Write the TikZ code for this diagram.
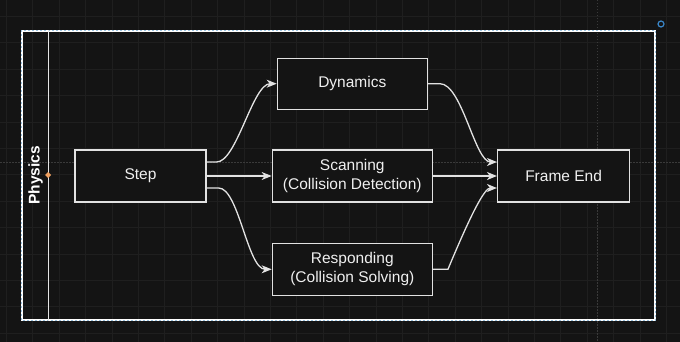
\documentclass[tikz,border=0pt]{standalone}
\usepackage{fontspec}
\setmainfont{Liberation Sans}
\usetikzlibrary{arrows.meta,positioning}
\definecolor{canvas}{HTML}{141414}
\definecolor{gridline}{HTML}{1F1F1F}
\definecolor{guideline}{HTML}{3A3A3A}
\definecolor{edge}{HTML}{E2E2E2}
\definecolor{selblue}{HTML}{9CC3E0}
\definecolor{handle}{HTML}{F0A060}
\definecolor{rothandle}{HTML}{3A86C8}

\begin{document}
\begin{tikzpicture}[x=1pt,y=-1pt,font=\fontsize{15.5}{19}\selectfont,
    box/.style={draw=edge,line width=1.3pt,fill=canvas,text=white!94!black,minimum height=52pt,inner sep=0pt,align=center},
    arr/.style={draw=edge,line width=1.3pt,-{Stealth[length=10pt,width=8pt,inset=3pt]}},
    guide/.style={draw=guideline,line width=0.8pt,dash pattern=on 1.5pt off 1.5pt}]
    % canvas and grid
    \fill[canvas] (0,0) rectangle (680,342);
    \useasboundingbox (0,0) rectangle (680,342);
    \foreach \x in {6.4,32.8,...,680} \draw[gridline,line width=0.8pt] (\x,0) -- (\x,342);
    \foreach \y in {16.4,42.8,...,342} \draw[gridline,line width=0.8pt] (0,\y) -- (680,\y);
    \draw[guide] (0,162) -- (680,162);
    \draw[guide] (597,0) -- (597,342);
    % swimlane
    \node[draw=white,line width=1.2pt,minimum width=633pt,minimum height=289pt,inner sep=0pt] (lane) at (338.5,175.5) {};
    \draw[selblue,line width=1.2pt,dash pattern=on 2pt off 2pt] (lane.north west) rectangle (lane.south east);
    \draw[white!90!black,line width=1.3pt] ([xshift=27pt]lane.north west) -- ([xshift=27pt]lane.south west);
    \node[rotate=90,text=white,font=\bfseries\fontsize{15.5}{19}\selectfont] (title) at (35.5,175.5) {Physics};
    \fill[handle] (48,172) -- (51,175) -- (48,178) -- (45,175) -- cycle;
    \draw[rothandle,line width=1.2pt] (661,24) circle (3pt);
    % stages
    \node[box,minimum width=131pt] (step) at (140.5,176) {Step};
    \node[box,minimum width=160pt,right=65pt of step] (scan) {Scanning\\(Collision Detection)};
    \node[box,minimum width=150pt,minimum height=51pt,above=39.5pt of scan] (dyn) {Dynamics};
    \node[box,minimum width=160pt,below=40pt of scan] (resp) {Responding\\(Collision Solving)};
    \node[box,minimum width=132pt,right=64pt of scan] (fe) {Frame End};
    % flow
    \draw[arr] ([yshift=14pt]step.east) -- ++(10,0) .. controls +(20,0) and +(-24,0) .. (dyn.west);
    \draw[arr] (step.east) -- (scan.west);
    \draw[arr] ([yshift=-12pt]step.east) -- ++(12,0) .. controls +(20,0) and +(-24,0) .. (resp.west);
    \draw[arr] (dyn.east) -- ++(12,0) .. controls +(22,0) and +(-22,0) .. ([yshift=14pt]fe.west);
    \draw[arr] (scan.east) -- (fe.west);
    \draw[arr] (resp.east) -- ++(15,0) .. controls +(25,-60) and +(-12,0) .. ([yshift=-12pt]fe.west);
\end{tikzpicture}
\end{document}
